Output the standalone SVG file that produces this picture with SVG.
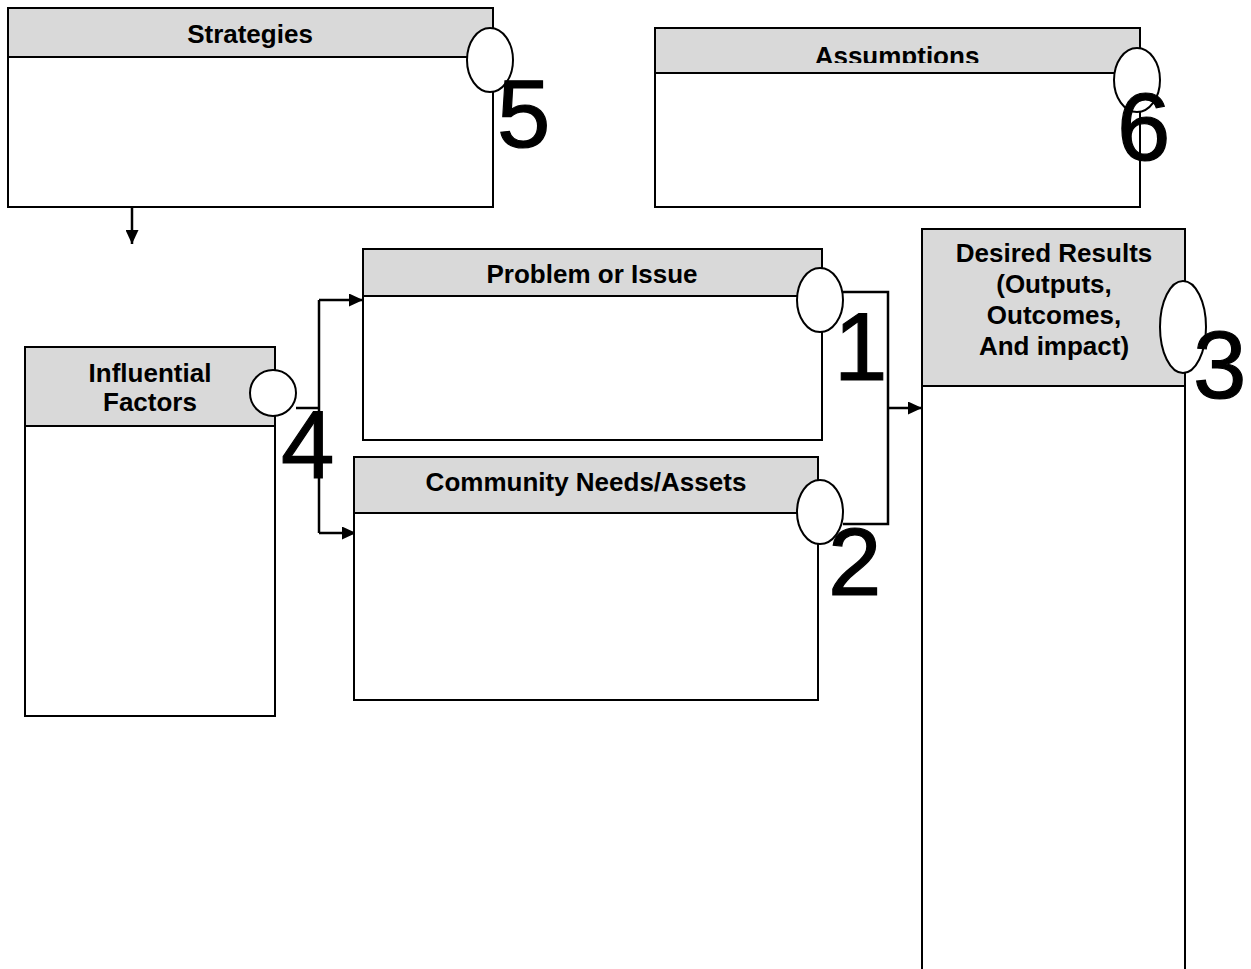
<svg xmlns="http://www.w3.org/2000/svg" width="1251" height="969" viewBox="0 0 1251 969">
  <defs>
    <style>
      .body { fill: #ffffff; stroke: #000000; stroke-width: 2; }
      .head { fill: #d9d9d9; stroke: #000000; stroke-width: 2; }
      .title { font-family: "Liberation Sans", Arial, sans-serif; font-weight: bold; font-size: 26px; fill: #000000; text-anchor: middle; }
      .badge { fill: #ffffff; stroke: #000000; stroke-width: 2; }
      .num { font-family: "Liberation Sans", Arial, sans-serif; font-size: 96px; fill: #000000; stroke: #000000; stroke-width: 1.2; }
      .wire { fill: none; stroke: #000000; stroke-width: 2.5; }
    </style>
    <marker id="arrow" viewBox="0 0 10 10" refX="10" refY="5" markerWidth="5.6" markerHeight="5.2" markerUnits="strokeWidth" orient="auto" preserveAspectRatio="none">
      <path d="M0,0 L10,5 L0,10 z" fill="#000000"/>
    </marker>
    <clipPath id="assumptionsClip">
      <rect x="655" y="28" width="485" height="35"/>
    </clipPath>
  </defs>

  <rect width="1251" height="969" fill="#ffffff"/>

  <!-- connectors -->
  <g id="connectors">
    <path class="wire" d="M132,207 L132,244" marker-end="url(#arrow)"/>
    <path class="wire" d="M296,408 L319,408"/>
    <path class="wire" d="M319,300 L319,533"/>
    <path class="wire" d="M319,300 L363,300" marker-end="url(#arrow)"/>
    <path class="wire" d="M319,533 L356,533" marker-end="url(#arrow)"/>
    <path class="wire" d="M843,292 L888,292 L888,524 L843,524"/>
    <path class="wire" d="M888,408 L922,408" marker-end="url(#arrow)"/>
  </g>

  <!-- Strategies -->
  <g id="strategies">
    <rect class="body" x="8" y="8" width="485" height="199"/>
    <rect class="head" x="8" y="8" width="485" height="49"/>
    <text class="title" x="250" y="43">Strategies</text>
    <ellipse class="badge" cx="490" cy="60" rx="23" ry="32"/>
    <text class="num" x="497" y="147">5</text>
  </g>

  <!-- Assumptions -->
  <g id="assumptions">
    <rect class="body" x="655" y="28" width="485" height="179"/>
    <rect class="head" x="655" y="28" width="485" height="45"/>
    <text class="title" x="897" y="65" clip-path="url(#assumptionsClip)">Assumptions</text>
    <ellipse class="badge" cx="1137" cy="80" rx="23" ry="32"/>
    <text class="num" x="1117" y="160">6</text>
  </g>

  <!-- Influential Factors -->
  <g id="influential-factors">
    <rect class="body" x="25" y="347" width="250" height="369"/>
    <rect class="head" x="25" y="347" width="250" height="79"/>
    <text class="title" x="150" y="382">Influential</text>
    <text class="title" x="150" y="411">Factors</text>
    <circle class="badge" cx="273" cy="393" r="23"/>
    <text class="num" x="281" y="478">4</text>
  </g>

  <!-- Problem or Issue -->
  <g id="problem-or-issue">
    <rect class="body" x="363" y="249" width="459" height="191"/>
    <rect class="head" x="363" y="249" width="459" height="47"/>
    <text class="title" x="592" y="283">Problem or Issue</text>
    <ellipse class="badge" cx="820" cy="300" rx="23" ry="32"/>
    <text class="num" x="834" y="380">1</text>
  </g>

  <!-- Community Needs/Assets -->
  <g id="community-needs">
    <rect class="body" x="354" y="457" width="464" height="243"/>
    <rect class="head" x="354" y="457" width="464" height="56"/>
    <text class="title" x="586" y="491">Community Needs/Assets</text>
    <ellipse class="badge" cx="820" cy="512" rx="23" ry="32"/>
    <text class="num" x="828" y="595">2</text>
  </g>

  <!-- Desired Results -->
  <g id="desired-results">
    <rect class="body" x="922" y="229" width="263" height="760"/>
    <rect class="head" x="922" y="229" width="263" height="157"/>
    <text class="title" x="1054" y="262">Desired Results</text>
    <text class="title" x="1054" y="293">(Outputs,</text>
    <text class="title" x="1054" y="324">Outcomes,</text>
    <text class="title" x="1054" y="355">And impact)</text>
    <ellipse class="badge" cx="1183" cy="327" rx="23" ry="46"/>
    <text class="num" x="1193" y="398">3</text>
  </g>
</svg>
